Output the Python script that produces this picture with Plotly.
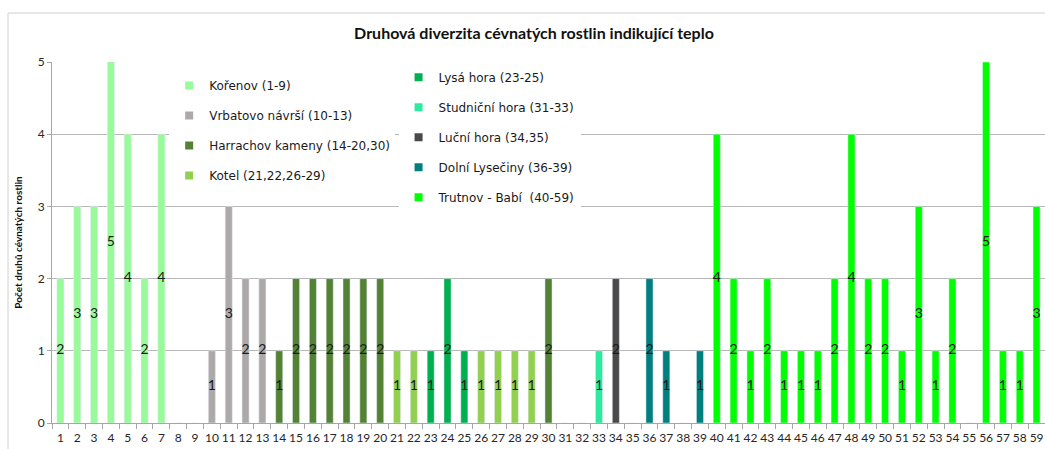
import plotly.graph_objects as go

# Plot numbers 1..59 shown on the category axis
plots = [str(i) for i in range(1, 60)]

# Site names (legend text) and their bar colours
sites = [
    "Kořenov (1-9)",
    "Vrbatovo návrší (10-13)",
    "Harrachov kameny (14-20,30)",
    "Kotel (21,22,26-29)",
    "Lysá hora (23-25)",
    "Studniční hora (31-33)",
    "Luční hora (34,35)",
    "Dolní Lysečiny (36-39)",
    "Trutnov - Babí  (40-59)",
]
colors = ["#99FA99", "#ADA9A9", "#548235", "#92D050", "#00B050",
          "#2EEAA0", "#4A4A4A", "#007F7F", "#00FF00"]

# Plot numbers belonging to each site and the species count per plot
korenov_x = [1, 2, 3, 4, 5, 6, 7, 8, 9]
korenov_y = [2, 3, 3, 5, 4, 2, 4, 0, 0]
vrbatovo_x = [10, 11, 12, 13]
vrbatovo_y = [1, 3, 2, 2]
harrachov_x = [14, 15, 16, 17, 18, 19, 20, 30]
harrachov_y = [1, 2, 2, 2, 2, 2, 2, 2]
kotel_x = [21, 22, 26, 27, 28, 29]
kotel_y = [1, 1, 1, 1, 1, 1]
lysa_x = [23, 24, 25]
lysa_y = [1, 2, 1]
studnicni_x = [31, 32, 33]
studnicni_y = [0, 0, 1]
lucni_x = [34, 35]
lucni_y = [2, 0]
lyseciny_x = [36, 37, 38, 39]
lyseciny_y = [2, 1, 0, 1]
trutnov_x = list(range(40, 60))
trutnov_y = [4, 2, 1, 2, 1, 1, 1, 2, 4, 2, 2, 1, 3, 1, 2, 0, 5, 1, 1, 3]

series_x = [korenov_x, vrbatovo_x, harrachov_x, kotel_x, lysa_x,
            studnicni_x, lucni_x, lyseciny_x, trutnov_x]
series_y = [korenov_y, vrbatovo_y, harrachov_y, kotel_y, lysa_y,
            studnicni_y, lucni_y, lyseciny_y, trutnov_y]

y_ticks = [0, 1, 2, 3, 4, 5]

FONT = "Lato"
LEGEND_FONT = "DejaVu Sans"

fig = go.Figure()

for name, col, xs, ys in zip(sites, colors, series_x, series_y):
    cats = [str(v) for v in xs]
    fig.add_trace(go.Bar(
        x=cats, y=ys, name=name, marker_color=col, width=0.42,
        showlegend=False, hoverinfo="x+y",
    ))
    # value label centred inside each bar
    lab_x = [c for c, v in zip(cats, ys) if v > 0]
    lab_y = [v / 2 for v in ys if v > 0]
    lab_t = [str(v) for v in ys if v > 0]
    fig.add_trace(go.Scatter(
        x=lab_x, y=lab_y, text=lab_t, mode="text",
        textfont=dict(family=FONT, size=14, color="#1A1A1A"),
        showlegend=False, hoverinfo="skip",
    ))

# legend entries: small squares split over two legend boxes
for i, (name, col) in enumerate(zip(sites, colors)):
    fig.add_trace(go.Scatter(
        x=[None], y=[None], mode="markers", name=name,
        marker=dict(symbol="square", size=8, color=col),
        legend="legend" if i < 4 else "legend2",
        legendgroup=f"g{i}",
    ))

legend_common = dict(
    bgcolor="white", borderwidth=0, traceorder="grouped",
    font=dict(family=LEGEND_FONT, size=12, color="#1A1A1A"),
    itemwidth=30, xanchor="left", yanchor="top",
)

fig.update_layout(
    width=1045, height=449,
    margin=dict(l=52, r=0, t=62, b=26),
    paper_bgcolor="white", plot_bgcolor="white",
    barmode="overlay",
    title=dict(
        text="<b>Druhová diverzita cévnatých rostlin indikující teplo</b>",
        font=dict(family=FONT, size=16, color="#111111"),
        x=0.511, xanchor="center", y=1 - 33 / 449, yanchor="middle",
        yref="container",
    ),
    legend=dict(x=0.118, y=0.975, tracegroupgap=11, **legend_common),
    legend2=dict(x=0.349, y=0.998, tracegroupgap=11, **legend_common),
    xaxis=dict(
        type="category", categoryorder="array", categoryarray=plots,
        range=[-0.5, len(plots) - 0.5],
        showline=True, linecolor="#A6A6A6", linewidth=1,
        ticks="outside", ticklen=5, tickcolor="#A6A6A6", tickson="boundaries",
        tickangle=0, showgrid=False, ticklabelstandoff=4,
        tickfont=dict(family=FONT, size=12, color="#262626"),
    ),
    yaxis=dict(
        range=[0, 5], tickvals=y_ticks,
        showline=True, linecolor="#A6A6A6", linewidth=1,
        ticks="outside", ticklen=4, tickcolor="#A6A6A6",
        showgrid=True, gridcolor="#B8B8B8", gridwidth=1,
        zeroline=False,
        tickfont=dict(family=FONT, size=12, color="#262626"),
        title=dict(
            text="<b>Počet druhů cévnatých rostlin</b>",
            font=dict(family=FONT, size=10, color="#111111"),
            standoff=13,
        ),
    ),
    shapes=[dict(
        type="rect", xref="paper", yref="paper",
        x0=-0.0443, x1=1.01, y0=-0.2, y1=(423 - 13) / 361,
        line=dict(color="#D0D0D0", width=1), fillcolor="rgba(0,0,0,0)",
        layer="below",
    )],
)

fig.write_html("out.html")
